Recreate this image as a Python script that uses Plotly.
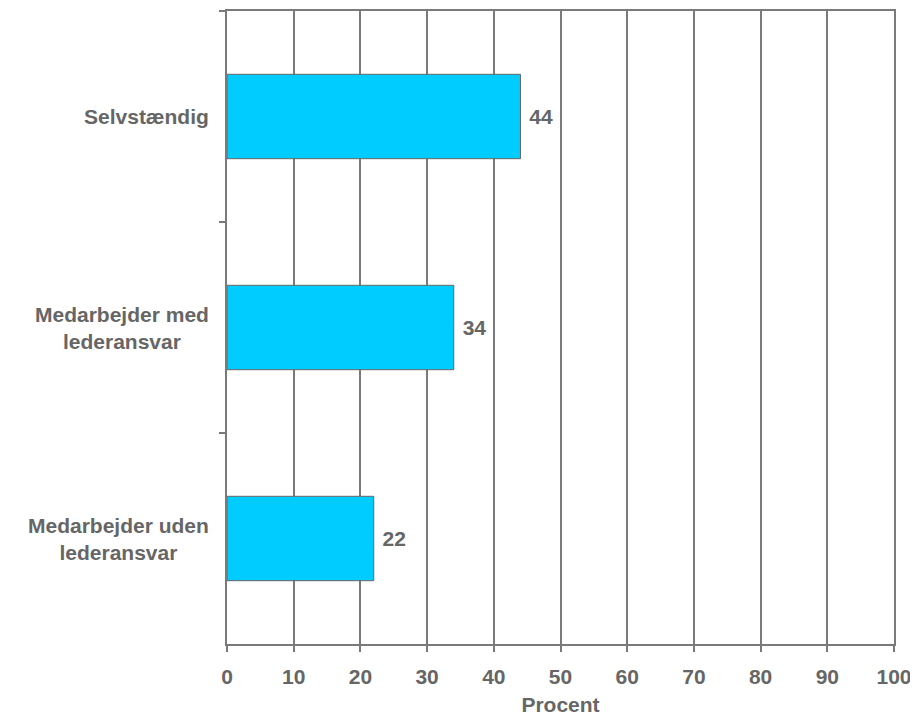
import plotly.graph_objects as go

categories = ["Selvstændig", "Medarbejder med lederansvar", "Medarbejder uden lederansvar"]
category_labels = ["Selvstændig", "Medarbejder med<br>lederansvar", "Medarbejder uden<br>lederansvar"]
values = [44, 34, 22]
x_ticks = list(range(0, 101, 10))

GRAY = "#666666"
LINE = "#7a7a7a"
FONT = "Liberation Sans, Arial, sans-serif"
FS = 21

fig = go.Figure()
fig.add_trace(go.Bar(
    y=categories,
    x=values,
    orientation="h",
    width=0.4,
    marker=dict(color="#00CCFF", line=dict(color=GRAY, width=1)),
    text=[str(v) for v in values],
    textposition="outside",
    textfont=dict(family=FONT, size=FS, color=GRAY),
    texttemplate=" <b>%{text}</b>",
    cliponaxis=False,
    hoverinfo="skip",
))

annotations = []
for cat, lab in zip(categories, category_labels):
    annotations.append(dict(
        xref="paper", yref="y", x=0, y=cat, xshift=-16,
        xanchor="right", yanchor="middle", align="center",
        text=f"<b>{lab}</b>", showarrow=False,
        font=dict(family=FONT, size=FS, color=GRAY),
    ))

fig.update_layout(
    width=910, height=709,
    margin=dict(l=219, r=24, t=1, b=73),
    paper_bgcolor="white", plot_bgcolor="white",
    showlegend=False,
    annotations=annotations,
    xaxis=dict(
        range=[0, 100], tickvals=x_ticks, ticktext=[f"<b>{t}</b>" for t in x_ticks],
        showgrid=True, gridcolor=LINE, gridwidth=1.5,
        showline=True, linecolor=LINE, linewidth=2, mirror=True,
        ticks="outside", ticklen=6, tickcolor=LINE, tickwidth=1.5,
        ticklabelstandoff=7,
        zeroline=False,
        tickfont=dict(family=FONT, size=FS, color=GRAY),
        title=dict(text="<b>Procent</b>", font=dict(family=FONT, size=FS, color=GRAY), standoff=10),
    ),
    yaxis=dict(
        categoryorder="array", categoryarray=categories, autorange="reversed",
        showticklabels=False, showgrid=False,
        showline=True, linecolor=LINE, linewidth=2, mirror=True,
        ticks="outside", tickson="boundaries", ticklen=6, tickcolor=LINE, tickwidth=1.5,
        zeroline=False,
    ),
)

fig.write_html("out.html")
